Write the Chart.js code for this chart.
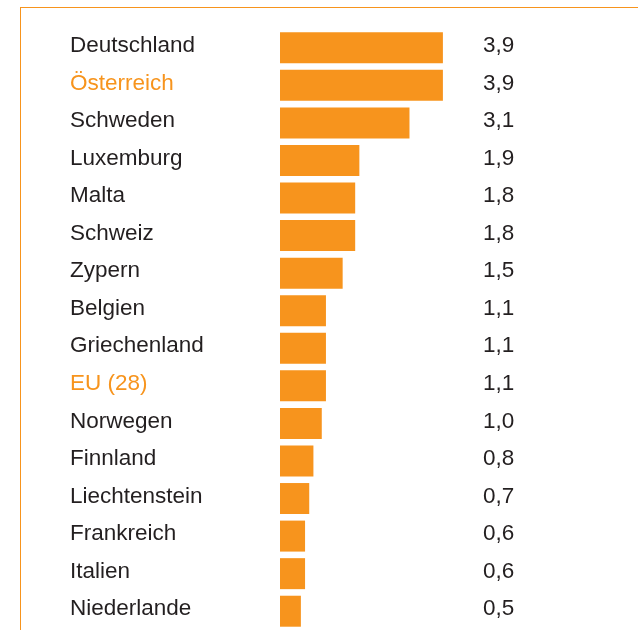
<!DOCTYPE html>
<html>
<head>
<meta charset="utf-8">
<script src="https://cdn.jsdelivr.net/npm/chart.js@4/dist/chart.umd.min.js"></script>
<style>
  html, body { margin: 0; padding: 0; background: #fff; }
  #wrap { position: relative; width: 638px; height: 630px; }
  #frame { position: absolute; left: 20px; top: 7px; right: 0; bottom: 0;
           border-left: 1.5px solid #f7941d; border-top: 1.5px solid #f7941d; }
  canvas { position: absolute; left: 0; top: 0; }
</style>
</head>
<body>
<div id="wrap">
  <div id="frame"></div>
  <canvas id="chart" width="638" height="630"></canvas>
</div>
<script>
const countries = ['Deutschland', 'Österreich', 'Schweden', 'Luxemburg', 'Malta', 'Schweiz', 'Zypern',
  'Belgien', 'Griechenland', 'EU (28)', 'Norwegen', 'Finnland', 'Liechtenstein', 'Frankreich',
  'Italien', 'Niederlande'];
const values = [3.9, 3.9, 3.1, 1.9, 1.8, 1.8, 1.5, 1.1, 1.1, 1.1, 1.0, 0.8, 0.7, 0.6, 0.6, 0.5];
const highlighted = ['Österreich', 'EU (28)'];

const orange = '#f7941d';
const dark = '#231f20';
const font = 'Liberation Sans, Arial, Helvetica, sans-serif';

// value column on the right, german decimal comma
const valueLabels = {
  id: 'valueLabels',
  afterDatasetsDraw(chart) {
    const ctx = chart.ctx;
    const meta = chart.getDatasetMeta(0);
    ctx.save();
    ctx.font = '22.5px ' + font;
    ctx.fillStyle = dark;
    ctx.textAlign = 'left';
    ctx.textBaseline = 'middle';
    meta.data.forEach((bar, i) => {
      ctx.fillText(values[i].toFixed(1).replace('.', ','), chart.chartArea.right, bar.y - 2);
    });
    ctx.restore();
  }
};

new Chart(document.getElementById('chart'), {
  type: 'bar',
  data: {
    labels: countries,
    datasets: [{
      data: values,
      backgroundColor: orange,
      borderWidth: 0,
      categoryPercentage: 1,
      barPercentage: 0.825
    }]
  },
  options: {
    indexAxis: 'y',
    responsive: false,
    animation: false,
    layout: { padding: { left: 70, right: 155, top: 29, bottom: 0 } },
    plugins: { legend: { display: false }, tooltip: { enabled: false } },
    scales: {
      x: { display: false, min: 0, max: 4.86 },
      y: {
        grid: { display: false, drawTicks: false },
        border: { display: false },
        afterFit(scale) {
          scale.width = 210;
          scale.paddingTop = 0;
          scale.paddingBottom = 0;
        },
        ticks: {
          crossAlign: 'far',
          padding: 0,
          labelOffset: -2,
          font: { family: font, size: 22.5 },
          color: (c) => highlighted.includes(countries[c.index]) ? orange : dark
        }
      }
    }
  },
  plugins: [valueLabels]
});
</script>
</body>
</html>
